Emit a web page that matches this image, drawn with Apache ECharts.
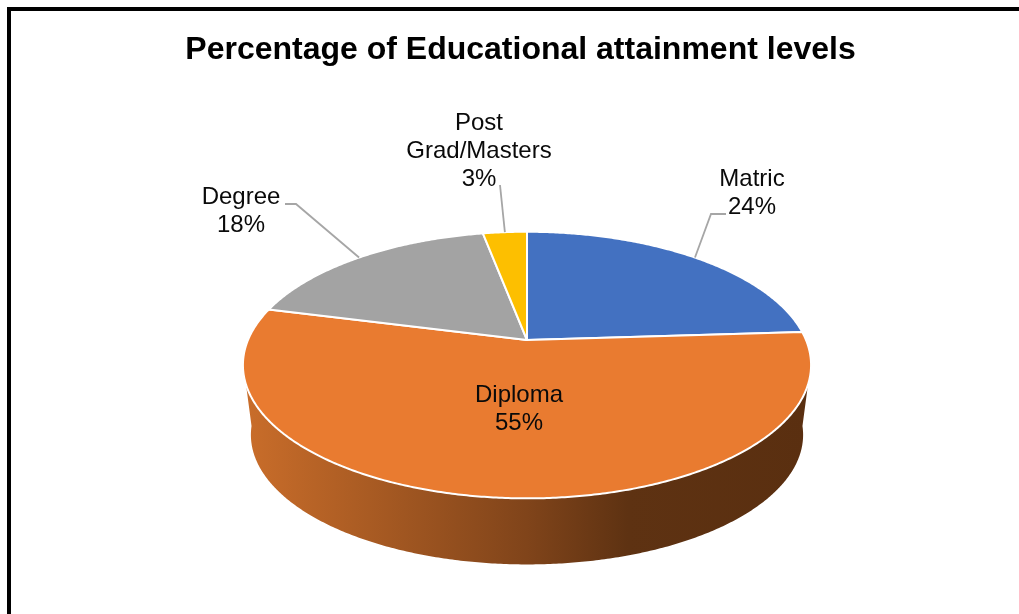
<!DOCTYPE html>
<html>
<head>
<meta charset="utf-8">
<title>Percentage of Educational attainment levels</title>
<style>
  html, body { margin: 0; padding: 0; background: #ffffff; }
  #chart { width: 1019px; height: 614px; }
</style>
<script src="https://cdn.jsdelivr.net/npm/echarts@6/dist/echarts.min.js"></script>
</head>
<body>
<div id="chart"></div>
<script>
// Chart data
const chartTitle = 'Percentage of Educational attainment levels';
const categories = ['Matric', 'Diploma', 'Degree', 'Post Grad/Masters'];
const shares = [24, 55, 18, 3];
const sliceColors = ['#4371c1', '#e97b30', '#a3a3a3', '#fdbf00'];

// Label placement: centre of the text block, plus the leader elbow and its
// free end (null for a label sitting on its own slice).
const labelLayout = [
  { x: 752, y: 193, leader: [[711, 214], [726, 214]] },
  { x: 519, y: 409, leader: null },
  { x: 241, y: 211, leader: [[296, 204], [285, 204]] },
  { x: 479, y: 151, leader: [[500, 185]] }
];

// Tilted disc: a circle under a perspective projection around the pie's apex.
const apexX = 527, apexY = 340;
const scaleX = 279, scaleY = 128.6, tilt = 0.188;
// The lower rim sits below the top face and slightly smaller.
const depthY = 70.5, depthScale = 0.972;
// Range of the rim (degrees clockwise from 12 o'clock) that shows a side wall.
const wallStart = 109, wallEnd = 251, wallFlare = 12;

function rimPoint(deg, drop, scale) {
  const a = deg * Math.PI / 180;
  const u = Math.sin(a), v = -Math.cos(a);
  const w = 1 - tilt * v;
  return [apexX + scale * scaleX * u / w, apexY + drop + scale * scaleY * v / w];
}

function arc(from, to, drop, scale) {
  const pts = [];
  const steps = Math.max(2, Math.ceil(Math.abs(to - from) * 2));
  for (let i = 0; i <= steps; i++) {
    pts.push(rimPoint(from + (to - from) * i / steps, drop, scale));
  }
  return pts;
}

const total = shares.reduce((a, b) => a + b, 0);
const startAngles = [];
shares.reduce((sum, v, i) => { startAngles[i] = sum / total * 360; return sum + v; }, 0);

function renderSlice(params, api) {
  const i = params.dataIndex;
  const value = api.value(0);
  const from = startAngles[i];
  const to = from + value / total * 360;
  const children = [];

  // Side wall, only along the part of the rim facing the viewer
  const a = Math.max(from, wallStart), b = Math.min(to, wallEnd);
  if (a < b) {
    const wall = arc(a, b, 0, 1).concat(arc(b + wallFlare, a - wallFlare, depthY, depthScale));
    children.push({
      type: 'polygon',
      z2: 1,
      shape: { points: wall },
      style: {
        fill: new echarts.graphic.LinearGradient(0, 0, 1, 0, [
          { offset: 0, color: '#c96d2a' },
          { offset: 0.5, color: '#80441a' },
          { offset: 0.68, color: '#5e3212' },
          { offset: 1, color: '#5a2f10' }
        ])
      }
    });
  }

  // Top face
  children.push({
    type: 'polygon',
    z2: 2,
    shape: { points: [[apexX, apexY]].concat(arc(from, to, 0, 1)) },
    style: { fill: sliceColors[i], stroke: '#ffffff', lineWidth: 2, lineJoin: 'round' }
  });

  // Leader line from the middle of the slice's rim to its label
  const layout = labelLayout[i];
  if (layout.leader) {
    children.push({
      type: 'polyline',
      z2: 3,
      shape: { points: [rimPoint((from + to) / 2, 0, 1)].concat(layout.leader) },
      style: { stroke: '#a6a6a6', fill: null, lineWidth: 1.8 }
    });
  }

  // Category and percentage
  children.push({
    type: 'text',
    z2: 4,
    style: {
      text: categories[i].replace(' ', '\n') + '\n' + value + '%',
      x: layout.x,
      y: layout.y,
      align: 'center',
      verticalAlign: 'middle',
      fontFamily: '"Liberation Sans", Arial, sans-serif',
      fontSize: 24,
      lineHeight: 28,
      fill: '#0a0a0a'
    }
  });

  return { type: 'group', children: children };
}

const chart = echarts.init(document.getElementById('chart'), null, { renderer: 'canvas' });
chart.setOption({
  animation: false,
  backgroundColor: '#ffffff',
  title: {
    text: chartTitle,
    left: 520.5,
    top: 29,
    textAlign: 'center',
    textStyle: {
      fontFamily: '"Liberation Sans", Arial, sans-serif',
      fontWeight: 'bold',
      fontSize: 32,
      color: '#000000'
    },
    padding: [5, 10, 5, 0]
  },
  // Black frame around the chart area, open past the right and bottom edges
  graphic: [{
    type: 'rect',
    silent: true,
    z: -1,
    shape: { x: 9, y: 9, width: 1100, height: 700 },
    style: { fill: '#ffffff', stroke: '#000000', lineWidth: 4 }
  }],
  series: [{
    type: 'custom',
    coordinateSystem: 'none',
    clip: false,
    renderItem: renderSlice,
    data: shares.map(v => [v])
  }]
});
</script>
</body>
</html>
